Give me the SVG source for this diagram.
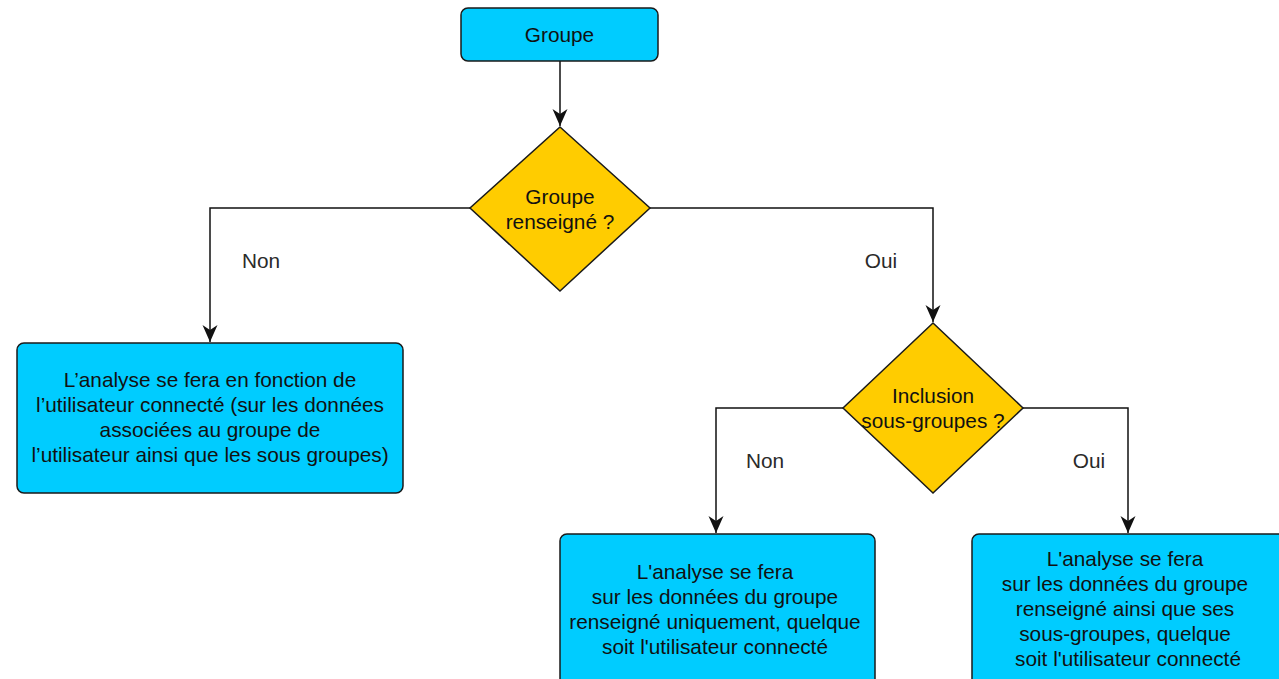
<svg xmlns="http://www.w3.org/2000/svg" width="1279" height="679" viewBox="0 0 1279 679">
<style>
.box{fill:#00CCFF;stroke:#1a1a1a;stroke-width:1.5}
.dia{fill:#FFCC00;stroke:#1a1a1a;stroke-width:1.5}
.t{font-family:"Liberation Sans",Arial,sans-serif;font-size:20.8px;fill:#111;text-anchor:middle}
.lbl{font-family:"Liberation Sans",Arial,sans-serif;font-size:20.8px;fill:#2a2a2a;text-anchor:middle}
.edge{fill:none;stroke:#111;stroke-width:1.5;marker-end:url(#arr)}
</style>
<defs>
<marker id="arr" markerUnits="userSpaceOnUse" viewBox="-18 -8 19 16" refX="0" refY="0" markerWidth="19" markerHeight="16" orient="auto">
<path d="M0,0 L-17,-7.5 L-12,0 L-17,7.5 Z" fill="#111"/>
</marker>
</defs>
<rect width="1279" height="679" fill="#ffffff"/>
<g id="connectors">
<path class="edge" d="M560,61 L560,126"/>
<path class="edge" d="M470,208 L210,208 L210,342"/>
<path class="edge" d="M650,208 L933,208 L933,322"/>
<path class="edge" d="M843,408 L716,408 L716,533"/>
<path class="edge" d="M1023,408 L1128,408 L1128,533"/>
<text class="lbl" x="261" y="268">Non</text>
<text class="lbl" x="881" y="268">Oui</text>
<text class="lbl" x="765" y="468">Non</text>
<text class="lbl" x="1089" y="468">Oui</text>
</g>
<g id="groupe">
<rect class="box" x="461" y="8" width="197" height="53" rx="7"/>
<text class="t" x="559.5" y="42">Groupe</text>
</g>
<g id="groupe-renseigne">
<polygon class="dia" points="560,127 650,208 560,291 470,208"/>
<text class="t" x="560" y="204">Groupe</text>
<text class="t" x="560" y="229">renseigné ?</text>
</g>
<g id="analyse-utilisateur">
<rect class="box" x="17" y="343" width="386" height="150" rx="7"/>
<text class="t" x="210" y="387">L’analyse se fera en fonction de</text>
<text class="t" x="210" y="412">l’utilisateur connecté (sur les données</text>
<text class="t" x="210" y="437">associées au groupe de</text>
<text class="t" x="210" y="462">l’utilisateur ainsi que les sous groupes)</text>
</g>
<g id="inclusion-sous-groupes">
<polygon class="dia" points="933,323 1023,408 933,493 843,408"/>
<text class="t" x="933" y="403">Inclusion</text>
<text class="t" x="933" y="428">sous-groupes ?</text>
</g>
<g id="analyse-groupe-seul">
<rect class="box" x="560" y="534" width="315" height="160" rx="7"/>
<text class="t" x="715" y="579">L'analyse se fera</text>
<text class="t" x="715" y="604">sur les données du groupe</text>
<text class="t" x="715" y="629">renseigné uniquement, quelque</text>
<text class="t" x="715" y="654">soit l'utilisateur connecté</text>
</g>
<g id="analyse-sous-groupes">
<rect class="box" x="972" y="534" width="315" height="160" rx="7"/>
<text class="t" x="1125" y="566">L'analyse se fera</text>
<text class="t" x="1125" y="591">sur les données du groupe</text>
<text class="t" x="1125" y="616">renseigné ainsi que ses</text>
<text class="t" x="1125" y="641">sous-groupes, quelque</text>
<text class="t" x="1128" y="666">soit l'utilisateur connecté</text>
</g>
</svg>
